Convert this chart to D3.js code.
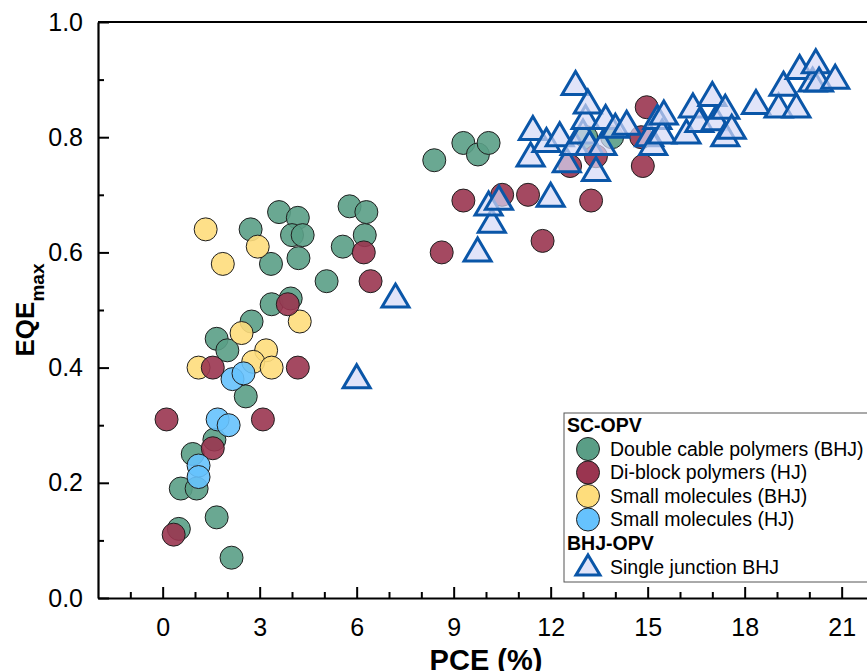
<!DOCTYPE html>
<html>
<head>
<meta charset="utf-8">
<script src="https://cdn.jsdelivr.net/npm/d3@7"></script>
<style>
  body { margin: 0; background: #fff; }
  svg { display: block; font-family: Arial, "Liberation Sans", sans-serif; }
</style>
</head>
<body>
<svg id="chart" width="867" height="671"></svg>
<script>
/* ------------------ data: [PCE %, EQE max] ------------------ */

const doubleCableBHJ = [
  [0.5, 0.12], [0.56, 0.19], [1.05, 0.19], [0.93, 0.25], [1.67, 0.14], [2.13, 0.07],
  [1.6, 0.275], [2.57, 0.35], [1.67, 0.45], [2.0, 0.43], [2.75, 0.48], [3.37, 0.51],
  [3.96, 0.52], [3.35, 0.58], [2.72, 0.64], [3.6, 0.67], [4.18, 0.66], [4.0, 0.63],
  [4.33, 0.63], [4.2, 0.59], [5.07, 0.55], [5.57, 0.61], [5.78, 0.68], [6.3, 0.67],
  [6.25, 0.63], [8.4, 0.76], [9.3, 0.79], [9.75, 0.77], [10.08, 0.79], [13.1, 0.80],
  [13.9, 0.80]
];

const diBlockHJ = [
  [0.12, 0.31], [0.34, 0.11], [1.55, 0.26], [3.1, 0.31], [1.55, 0.40], [3.87, 0.51],
  [4.18, 0.40], [6.22, 0.60], [6.43, 0.55], [8.63, 0.60], [9.3, 0.69], [10.5, 0.70],
  [11.3, 0.70], [11.75, 0.62], [13.25, 0.69], [12.6, 0.75], [13.4, 0.767], [14.85, 0.75],
  [14.97, 0.852], [14.8, 0.80]
];

const smallMolBHJ = [
  [1.33, 0.64], [1.86, 0.58], [2.94, 0.61], [2.44, 0.46], [4.24, 0.48], [1.11, 0.40],
  [3.2, 0.43], [2.8, 0.41], [3.37, 0.40]
];

const smallMolHJ = [
  [1.7, 0.31], [2.04, 0.30], [1.11, 0.23], [1.11, 0.21], [2.16, 0.38], [2.5, 0.39]
];

const singleJunctionBHJ = [
  [6.0, 0.385], [7.2, 0.525], [9.74, 0.605], [10.18, 0.655], [10.08, 0.685], [10.4, 0.695],
  [12.0, 0.70], [11.38, 0.77], [11.45, 0.816], [11.87, 0.795], [12.28, 0.805], [12.5, 0.76],
  [12.74, 0.79], [12.77, 0.894], [13.0, 0.81], [13.08, 0.835], [13.15, 0.862], [13.2, 0.79],
  [13.4, 0.745], [13.6, 0.79], [13.7, 0.835], [14.0, 0.82], [14.35, 0.825], [15.05, 0.805],
  [15.17, 0.79], [15.3, 0.835], [15.45, 0.81], [15.5, 0.843], [16.2, 0.81], [16.4, 0.855],
  [16.6, 0.83], [17.0, 0.875], [17.1, 0.833], [17.4, 0.853], [17.4, 0.805], [17.6, 0.818],
  [18.35, 0.861], [19.05, 0.855], [19.2, 0.893], [19.6, 0.855], [19.7, 0.922], [20.1, 0.90],
  [20.2, 0.932], [20.3, 0.90], [20.8, 0.905]
];

const xMajorTicks = [0, 3, 6, 9, 12, 15, 18, 21];
const yMajorTicks = [0, 0.2, 0.4, 0.6, 0.8, 1.0];

/* ------------------ series (draw order) ------------------ */

const circleSeries = [
  { name: "Double cable polymers (BHJ)", data: doubleCableBHJ, color: "#5a9e86" },
  { name: "Small molecules (BHJ)", data: smallMolBHJ, color: "#fedd7c" },
  { name: "Di-block polymers (HJ)", data: diBlockHJ, color: "#9a3550" },
  { name: "Small molecules (HJ)", data: smallMolHJ, color: "#66c2fd" }
];
const legendOrder = [0, 2, 1, 3];

const TRI_STROKE = "#0a56a8";
const TRI_FILL = "#d4d8f6";
const R = 11.5;

/* ------------------ scales ------------------ */

const svg = d3.select("#chart");
const x = d3.scaleLinear().domain([-2, 22]).range([98, 874]);
const y = d3.scaleLinear().domain([0, 1]).range([598, 22]);

function triPath(w, h) {
  return `M0,${-h / 2}L${w / 2},${h / 2}L${-w / 2},${h / 2}Z`;
}

/* ------------------ marks ------------------ */

const marks = svg.append("g");

circleSeries.forEach(s => {
  marks.append("g")
    .selectAll("circle")
    .data(s.data)
    .join("circle")
    .attr("cx", d => x(d[0]))
    .attr("cy", d => y(d[1]))
    .attr("r", R)
    .attr("fill", s.color)
    .attr("fill-opacity", 0.9)
    .attr("stroke", "#1f1f1f")
    .attr("stroke-width", 1);
});

marks.append("g")
  .selectAll("path")
  .data(singleJunctionBHJ)
  .join("path")
  .attr("transform", d => `translate(${x(d[0])},${y(d[1])})`)
  .attr("d", triPath(27, 23))
  .attr("fill", TRI_FILL)
  .attr("fill-opacity", 0.7)
  .attr("stroke", TRI_STROKE)
  .attr("stroke-width", 3)
  .attr("stroke-linejoin", "miter");

/* ------------------ axes ------------------ */

const xMinor = d3.range(-1, 22).filter(v => v % 3 !== 0);
const yMinor = [0.1, 0.3, 0.5, 0.7, 0.9];

const xAxis = svg.append("g")
  .attr("transform", `translate(0,${y(0)})`)
  .call(d3.axisBottom(x).tickValues(xMajorTicks).tickSizeInner(-11).tickSizeOuter(0).tickPadding(20));
svg.append("g")
  .attr("transform", `translate(0,${y(0)})`)
  .call(d3.axisBottom(x).tickValues(xMinor).tickSizeInner(-6).tickSizeOuter(0).tickFormat(""))
  .call(g => g.select(".domain").remove());

const yAxis = svg.append("g")
  .attr("transform", `translate(${x(-2)},0)`)
  .call(d3.axisLeft(y).tickValues(yMajorTicks).tickSizeInner(-11).tickSizeOuter(0)
    .tickPadding(15).tickFormat(d3.format(".1f")));
svg.append("g")
  .attr("transform", `translate(${x(-2)},0)`)
  .call(d3.axisLeft(y).tickValues(yMinor).tickSizeInner(-6).tickSizeOuter(0).tickFormat(""))
  .call(g => g.select(".domain").remove());

svg.selectAll(".tick line").attr("stroke", "#000").attr("stroke-width", 2);
svg.selectAll(".domain").attr("stroke", "#000").attr("stroke-width", 2.2);
xAxis.selectAll("text").attr("font-size", 25).attr("fill", "#000");
yAxis.selectAll("text").attr("font-size", 25).attr("fill", "#000");

// top and right frame
svg.append("line")
  .attr("x1", x(-2)).attr("x2", x(22))
  .attr("y1", y(1)).attr("y2", y(1))
  .attr("stroke", "#000").attr("stroke-width", 2.2);
svg.append("line")
  .attr("x1", x(22)).attr("x2", x(22))
  .attr("y1", y(1)).attr("y2", y(0))
  .attr("stroke", "#000").attr("stroke-width", 2.2);

/* ------------------ titles ------------------ */

svg.append("text")
  .attr("x", (x(-2) + x(22)) / 2)
  .attr("y", 670)
  .attr("text-anchor", "middle")
  .attr("font-size", 29)
  .attr("font-weight", "bold")
  .text("PCE (%)");

const yTitle = svg.append("text")
  .attr("transform", `translate(34,${(y(0) + y(1)) / 2}) rotate(-90)`)
  .attr("text-anchor", "middle")
  .attr("font-size", 26)
  .attr("font-weight", "bold");
yTitle.append("tspan").text("EQE");
yTitle.append("tspan").attr("font-size", 19).attr("dy", 10).text("max");

/* ------------------ legend ------------------ */

const legend = svg.append("g").attr("transform", "translate(564,413)");
legend.append("rect")
  .attr("width", 306).attr("height", 169)
  .attr("fill", "#fff")
  .attr("stroke", "#555").attr("stroke-width", 1);

const LEG_FONT = 19.5;
legend.append("text")
  .attr("x", 3).attr("y", 19)
  .attr("font-size", LEG_FONT).attr("font-weight", "bold")
  .text("SC-OPV");

legendOrder.forEach((idx, i) => {
  const s = circleSeries[idx];
  const cy = 36 + i * 23.5;
  legend.append("circle")
    .attr("cx", 24).attr("cy", cy).attr("r", R)
    .attr("fill", s.color).attr("stroke", "#1f1f1f").attr("stroke-width", 1);
  legend.append("text")
    .attr("x", 46).attr("y", cy + 6.5)
    .attr("font-size", LEG_FONT)
    .text(s.name);
});

legend.append("text")
  .attr("x", 3).attr("y", 137)
  .attr("font-size", LEG_FONT).attr("font-weight", "bold")
  .text("BHJ-OPV");

legend.append("path")
  .attr("transform", "translate(24,152)")
  .attr("d", triPath(24, 20))
  .attr("fill", TRI_FILL).attr("fill-opacity", 0.7)
  .attr("stroke", TRI_STROKE).attr("stroke-width", 3);
legend.append("text")
  .attr("x", 46).attr("y", 161)
  .attr("font-size", LEG_FONT)
  .text("Single junction BHJ");
</script>
</body>
</html>
